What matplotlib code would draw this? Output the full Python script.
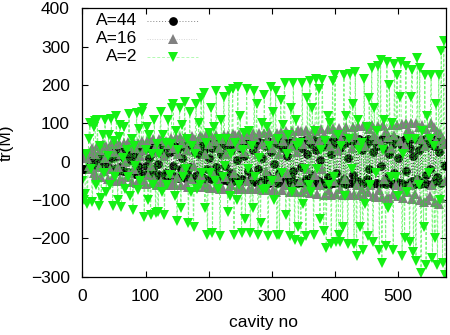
import numpy as np
import matplotlib
matplotlib.use("Agg")
import matplotlib.pyplot as plt
from matplotlib.lines import Line2D

plt.rcParams['font.family'] = ['Liberation Sans', 'DejaVu Sans']

cavity = list(range(0, 576, 2))

a44 = [-20, -20, -20, -19, -18, -15, -8, -5, 5, -8, 10, -10,
       12, 5, 8, 3, 5, 8, -12, 15, -15, 20, -18, 10,
       -22, 25, -20, 15, -25, 22, -15, 28, -25, 10, 25, -28,
       20, -30, 5, 30, -28, 15, -32, 30, -10, 25, -30, 32,
       -35, 30, -10, 35, -30, 10, -35, 38, -20, 30, -38, 36,
       -5, -35, 25, 40, -38, 15, -30, 40, -40, 25, 38, -35,
       -10, 42, -40, 30, -42, 40, -20, 10, 42, -42, 35, -30,
       44, -15, -42, 45, -45, 25, 40, -35, 20, -44, 45, -40,
       30, -45, 45, -20, 10, 46, -45, 35, -30, 48, -15, -46,
       48, -35, 20, -48, 45, -10, 40, -50, 50, -30, 30, -50,
       50, -40, 5, 50, -52, 35, -45, 52, 15, -50, 45, -25,
       -50, 52, -40, 30, 53, -52, 45, -20, 52, -50, 10, 50,
       -55, 40, -35, 55, -55, 25, 50, -45, -5, 55, -55, 45,
       -30, 55, -55, 35, -50, 55, 15, -55, 50, -40, 55, -25,
       50, -55, 40, -56, 55, -15, 35, -55, 56, -45, 20, 55,
       -55, 45, -35, 56, -56, 30, 55, -50, 5, 56, -55, 40,
       -58, 55, -40, 50, -58, 20, 57, -55, 45, -30, 58, -56,
       35, -55, 58, -45, 50, -58, 10, 57, -55, 55, -35, 58,
       -58, 45, -50, 58, -58, 30, 55, -55, 40, -45, 58, -20,
       55, -58, 25, 58, -55, 40, -58, 50, -10, 58, -55, 35,
       -58, 58, -40, 20, 58, -58, 45, -30, 58, -52, 10, 55,
       -55, 40, -58, 58, -25, 50, -58, 35, 58, -50, 15, -58,
       58, -45, 30, -58, 55, -55, 40, 58, -35, -58, 50, -20,
       55, -58, 40, -50, 58, -40, 25, 58, -55, 50, 45, -10]

a16 = [15, 18, 15, 12, 10, -10, 25, -20, 35, -30, 20, -35,
       40, -15, 30, -40, 45, -25, 10, 40, -45, 35, -20, 45,
       -40, 25, -50, 45, -15, 50, -45, 20, -50, 48, 0, -40,
       52, -30, 40, -52, 55, -20, 35, -55, 50, -45, 15, 55,
       -50, 30, -58, 55, -35, 60, -10, -55, 58, -45, 40, -60,
       25, 60, -50, 62, -58, 15, 55, -60, 45, -30, 62, -55,
       35, -62, 65, -40, 20, 65, -62, 50, -20, 65, -60, 30,
       -65, 55, -45, 68, -10, 60, -66, 40, -55, 68, -35, 65,
       -65, 20, 70, -60, 45, -68, 70, -25, 55, -68, 70, -50,
       35, -70, 60, -70, 70, -40, 20, 70, -68, 55, -60, 72,
       -30, 70, -72, 40, 72, -65, 60, -72, 25, 72, -50, 70,
       -70, 45, -72, 75, -35, 65, -72, 20, 75, -60, 45, -75,
       75, -25, 55, -75, 78, -50, 35, -75, 60, -78, 75, -40,
       20, 78, -75, 55, -60, 80, -30, 72, -80, 40, 80, -65,
       60, -80, 25, 82, -50, 80, -80, 45, -70, 82, -20, 70,
       -82, 60, -60, 85, -35, 80, -84, 55, -60, 85, -20, 70,
       -86, 60, 85, -75, 40, -86, 88, -50, 75, -85, 30, 88,
       -70, 60, -88, 80, -45, 90, -80, 65, -88, 35, 90, -85,
       70, -60, 92, -88, 55, -70, 92, -90, 40, 92, -80, 85,
       -60, 95, -90, 70, -92, 60, 94, -75, 50, -92, 95, -45,
       80, -94, 65, -95, 35, 95, -85, 70, -60, 96, -90, 55,
       -70, 98, -95, 40, 100, -80, 85, -60, 100, -96, 70, -85,
       102, -45, 90, -100, 60, 95, -105, 40, 85, -100, 70, -90,
       100, -60, 90, -105, 55, 80, -110, 75, -95, 60, 45, -50]

a2 = [-50, -100, -85, 20, -110, 60, 100, -20, -105, 90, 105, -60,
      108, -115, 40, -95, 70, -30, 110, -80, 15, 70, -60, 112,
      -115, 55, -40, 120, -100, 65, 95, -118, 10, 90, -70, 30,
      -40, 125, -90, 60, -125, 40, -10, 128, -75, 85, -50, 130,
      140, -145, 30, 90, -100, 70, -140, 20, -60, 110, -135, 45,
      -130, 20, 130, -80, 70, -138, 50, -60, 110, -35, 45, 140,
      150, -90, 80, -155, 30, 140, -120, 95, -40, 155, -20, 60,
      -160, 130, -80, 40, -170, 20, 150, -70, 100, -60, 165, -30,
      180, -120, 50, -190, 75, -30, 140, -185, 90, -50, 185, -70,
      60, -195, 110, -40, 170, -10, 60, -130, 185, -90, 20, 190,
      -190, 50, -100, 195, -60, 120, -185, 30, 75, -150, 190, -20,
      80, -185, 40, -120, 185, -40, 150, -190, 10, -160, 100, -75,
      175, -70, 90, -195, 40, 195, -50, 130, -100, 185, -190, 60,
      -190, 160, -30, 95, 205, -140, 20, 70, -195, 140, -80, 205,
      -205, 110, 40, -170, 50, -210, 205, -110, -20, -195, 165, -60,
      210, -80, 140, -190, 80, 215, -20, 190, -150, 30, 212, -180,
      55, -225, 120, -60, 100, -215, 210, -40, 225, -210, 70, -190,
      -210, 40, -170, 225, -90, 120, -215, 60, 230, -20, 150, -215,
      235, -245, 110, 30, -170, 50, -230, 215, -110, 90, -195, 165,
      -60, 245, -210, 140, -30, 80, 250, -230, 265, -265, 30, 110,
      -220, 260, -120, 200, -40, 100, -230, 255, -40, 225, -90, 170,
      260, -245, 20, -200, 250, -80, 60, -210, 170, 240, -235, 60,
      -260, 270, -60, 245, -290, 80, -170, 225, -270, 120, -30, 60,
      225, -250, 40, -200, 150, -270, 225, -100, 290, -265, 315, -295]

labels = ["A=44", "A=16", "A=2"]
xticks = [0, 100, 200, 300, 400, 500]
yticks = [-300, -200, -100, 0, 100, 200, 300, 400]

colors = ['#000000', '#808080', '#14f014']
markers = ['o', '^', 'v']
msizes = [6.3, 6.8, 7.3]
linestyles = [(0, (1, 2)), (0, (1, 1.5)), (0, (3, 2))]
linealphas = [0.8, 0.55, 0.55]

fig = plt.figure(figsize=(4.5, 3.35), dpi=100)
ax = fig.add_axes([0.1829, 0.174, 0.8075, 0.801])

series = [a44, a16, a2]
for vals, c, m, ms, ls, la in zip(series, colors, markers, msizes, linestyles, linealphas):
    ax.plot(cavity, vals, color=c, linestyle=ls, linewidth=0.7, alpha=la)
    ax.plot(cavity, vals, color=c, linestyle='none', marker=m, markersize=ms,
            markeredgewidth=0)

ax.set_xlim(0, 575)
ax.set_ylim(-300, 400)
ax.set_xticks(xticks)
ax.set_yticks(yticks)
ax.tick_params(direction='in', length=4, width=0.8, top=True, right=True,
               labelsize=12.5, pad=9)
for s in ax.spines.values():
    s.set_linewidth(0.9)

ax.set_xlabel("cavity no", fontsize=12.5)
ax.set_ylabel("tr(M)", fontsize=12.5)
ax.xaxis.set_label_coords(0.5, -0.172)
ax.xaxis.label.set_va('center')
ax.yaxis.set_label_coords(-0.21, 0.5)
ax.yaxis.label.set_va('center')
ax.yaxis.label.set_ha('center')

# legend (gnuplot style: right-aligned text, then line sample with marker)
rows = [0.953, 0.886, 0.819]
for lab, c, m, ms, ls, la, yy in zip(labels, colors, markers, msizes, linestyles,
                                     linealphas, rows):
    ax.text(0.1505, yy, lab, transform=ax.transAxes, ha='right', va='center',
            fontsize=12.5)
    ax.add_line(Line2D([0.178, 0.318], [yy, yy], transform=ax.transAxes,
                       color=c, linestyle=ls, linewidth=0.7, alpha=la * 0.6))
    ax.add_line(Line2D([0.25], [yy], transform=ax.transAxes, color=c,
                       marker=m, markersize=ms, markeredgewidth=0,
                       linestyle='none'))

fig.savefig("out.png", dpi=100)
